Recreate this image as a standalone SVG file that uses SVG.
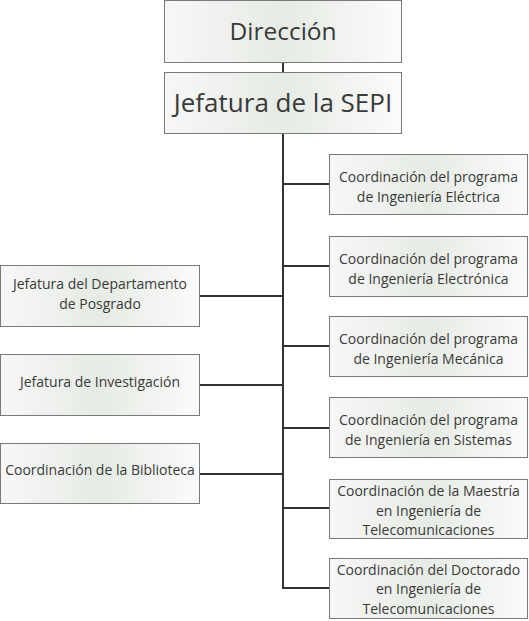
<svg xmlns="http://www.w3.org/2000/svg" width="529" height="621" viewBox="0 0 529 621">
<defs>
<linearGradient id="g" x1="0" y1="0" x2="1" y2="0">
<stop offset="0" stop-color="#f7f7f7"/>
<stop offset="0.5" stop-color="#e6ebe4"/>
<stop offset="1" stop-color="#fbfbfb"/>
</linearGradient>
</defs>
<style>
.b{fill:url(#g);stroke:#7a7a7a;stroke-width:1}
text{font-family:"Open Sans","Liberation Sans",Arial,sans-serif;fill:#3a3a3a;text-anchor:middle}
.s{font-size:14px}
.c line{stroke:#333;stroke-width:2}
</style>
<g class="c">
<line x1="283" y1="62" x2="283" y2="72"/>
<line x1="283" y1="133" x2="283" y2="589"/>
<line x1="283" y1="184" x2="329" y2="184"/>
<line x1="283" y1="266" x2="329" y2="266"/>
<line x1="283" y1="346" x2="329" y2="346"/>
<line x1="283" y1="428" x2="329" y2="428"/>
<line x1="283" y1="508" x2="329" y2="508"/>
<line x1="283" y1="588" x2="329" y2="588"/>
<line x1="200" y1="296" x2="283" y2="296"/>
<line x1="200" y1="385" x2="283" y2="385"/>
<line x1="200" y1="474" x2="283" y2="474"/>
</g>
<g id="direccion"><rect class="b" x="164.5" y="0.5" width="237" height="62"/><text x="283" y="40" font-size="24.5">Dirección</text></g>
<g id="sepi"><rect class="b" x="164.5" y="72.5" width="237" height="61"/><text x="283" y="112" font-size="26">Jefatura de la SEPI</text></g>
<g id="r1"><rect class="b" x="329.5" y="154.5" width="198" height="60"/><text class="s" x="428.5" y="182">Coordinación del programa</text><text class="s" x="428.5" y="201.5">de Ingeniería Eléctrica</text></g>
<g id="r2"><rect class="b" x="329.5" y="236.5" width="198" height="60"/><text class="s" x="428.5" y="264">Coordinación del programa</text><text class="s" x="428.5" y="283.5">de Ingeniería Electrónica</text></g>
<g id="r3"><rect class="b" x="329.5" y="316.5" width="198" height="60"/><text class="s" x="428.5" y="344">Coordinación del programa</text><text class="s" x="428.5" y="363.5">de Ingeniería Mecánica</text></g>
<g id="r4"><rect class="b" x="329.5" y="397.5" width="198" height="60"/><text class="s" x="428.5" y="425">Coordinación del programa</text><text class="s" x="428.5" y="444.5">de Ingeniería en Sistemas</text></g>
<g id="r5"><rect class="b" x="329.5" y="479.5" width="198" height="59"/><text class="s" x="428.5" y="496">Coordinación de la Maestría</text><text class="s" x="428.5" y="515.5">en Ingeniería de</text><text class="s" x="428.5" y="535">Telecomunicaciones</text></g>
<g id="r6"><rect class="b" x="329.5" y="558.5" width="198" height="60"/><text class="s" x="428.5" y="574.5">Coordinación del Doctorado</text><text class="s" x="428.5" y="594">en Ingeniería de</text><text class="s" x="428.5" y="613.5">Telecomunicaciones</text></g>
<g id="l1"><rect class="b" x="0.5" y="265.5" width="199" height="61"/><text class="s" x="100" y="289">Jefatura del Departamento</text><text class="s" x="100" y="308.5">de Posgrado</text></g>
<g id="l2"><rect class="b" x="0.5" y="354.5" width="199" height="61"/><text class="s" x="100" y="387">Jefatura de Investigación</text></g>
<g id="l3"><rect class="b" x="0.5" y="443.5" width="199" height="60"/><text class="s" x="100" y="475">Coordinación de la Biblioteca</text></g>
</svg>
